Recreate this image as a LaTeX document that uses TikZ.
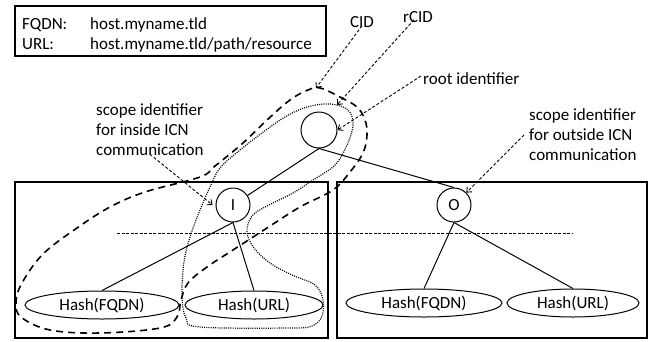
\documentclass[tikz,border=0pt]{standalone}
\usepackage{fontspec}
\setmainfont{Carlito}
\usetikzlibrary{arrows.meta,shapes.geometric}
\begin{document}
\begin{tikzpicture}[x=1pt,y=-1pt,
  font=\fontsize{17}{20}\selectfont,
  circ/.style={draw, circle, line width=1pt, minimum size=34pt, inner sep=0pt},
  ell/.style={draw, ellipse, line width=1pt, minimum height=28pt, inner sep=0pt},
  grp/.style={draw, line width=1.8pt, anchor=north west, inner sep=0pt},
  edge/.style={line width=1pt},
  lbl/.style={inner sep=0pt},
  ptr/.style={line width=0.9pt, dash pattern=on 3pt off 2pt, -{Straight Barb[length=4pt,width=7pt]}},
  cidloop/.style={line width=1.6pt, dash pattern=on 7pt off 5pt},
  rcidloop/.style={line width=1.2pt, dash pattern=on 1pt off 1.2pt},
  hline/.style={line width=1pt, dash pattern=on 3pt off 1.5pt}]
\useasboundingbox (0,0) rectangle (649,341);

% legend box
\node[grp, line width=2pt, minimum width=311pt, minimum height=50pt] (legend) at (14,5) {};
\node[lbl, anchor=base west] (fqdnk) at (22,29) {FQDN:};
\node[lbl, anchor=base west] (fqdnv) at (90,29) {host.myname.tld};
\node[lbl, anchor=base west] (urlk) at (22,49) {URL:};
\node[lbl, anchor=base west] (urlv) at (90,49) {host.myname.tld/path/resource};

% group boxes
\node[grp, minimum width=313pt, minimum height=156pt] (leftbox) at (14,181) {};
\node[grp, minimum width=310pt, minimum height=156pt] (rightbox) at (336,181) {};

% tree nodes
\node[circ, minimum size=36pt] (root) at (319,130) {};
\node[circ] (I) at (233,205) {I};
\node[circ] (O) at (454,205) {O};
\node[ell, minimum width=154pt] (lf) at (102,305) {Hash(FQDN)};
\node[ell, minimum width=138pt] (lu) at (254,305) {Hash(URL)};
\node[ell, minimum width=156pt] (rf) at (424,303) {Hash(FQDN)};
\node[ell, minimum width=132pt] (ru) at (573,303) {Hash(URL)};

\draw[edge] (root.south) -- (I);
\draw[edge] (root.south) -- (O.north);
\draw[edge] (I.south) -- (lf.north);
\draw[edge] (I.south) -- (lu.north);
\draw[edge] (O.south) -- (rf.north);
\draw[edge] (O.south) -- (ru.north);

% horizontal dashed separator
\coordinate (hl) at (117,233);
\coordinate (hr) at (573,233);
\draw[hline] (hl) -- (hr);

% CID loop
\draw[cidloop] plot[smooth cycle, tension=0.6] coordinates {
  (320,88) (340,97) (357,107) (365,120) (367,135) (363,153) (350,172) (333,190)
  (300,207) (267,228) (233,250) (207,267) (188,283) (181,300) (177,317) (160,328)
  (100,333) (50,330) (21,317) (16,302) (22,283) (43,254) (77,228) (110,207)
  (145,192) (200,177) (215,166) (243,143) (267,120) (290,100) (308,90)};

% rCID loop
\draw[rcidloop] plot[smooth cycle, tension=0.6] coordinates {
  (220,168) (240,150) (262,133) (285,117) (307,107) (330,104) (348,110) (353,125)
  (347,145) (335,165) (313,180) (293,193) (267,206) (252,216) (247,232) (254,248)
  (270,263) (292,275) (315,285) (323,300) (322,316) (312,326) (290,328) (200,327)
  (186,318) (182,295) (184,262) (190,237) (200,210) (210,187)};

% labels
\node[lbl] (cid) at (362,22) {CID};
\node[lbl] (rcid) at (418,17) {rCID};
\node[lbl, anchor=west] (rootid) at (423,79) {root identifier};
\node[lbl, anchor=west, align=left] (scin) at (96,130) {scope identifier\\for inside ICN\\communication};
\node[lbl, anchor=west, align=left] (scout) at (529,135) {scope identifier\\for outside ICN\\communication};

\coordinate (cidtip) at (316,88);
\coordinate (rcidtip) at (337,105);
\draw[ptr] ([yshift=2pt]cid.south) -- (cidtip);
\draw[ptr] ([xshift=-4pt,yshift=3pt]rcid.south) -- (rcidtip);
\draw[ptr] ([xshift=-2pt,yshift=3pt]rootid.west) -- (root.east);
\draw[ptr] ([yshift=2pt]scin.south) -- ([xshift=-3pt]I.west);
\draw[ptr] ([xshift=-5pt]scout.west) -- (O.north east);
\end{tikzpicture}
\end{document}
